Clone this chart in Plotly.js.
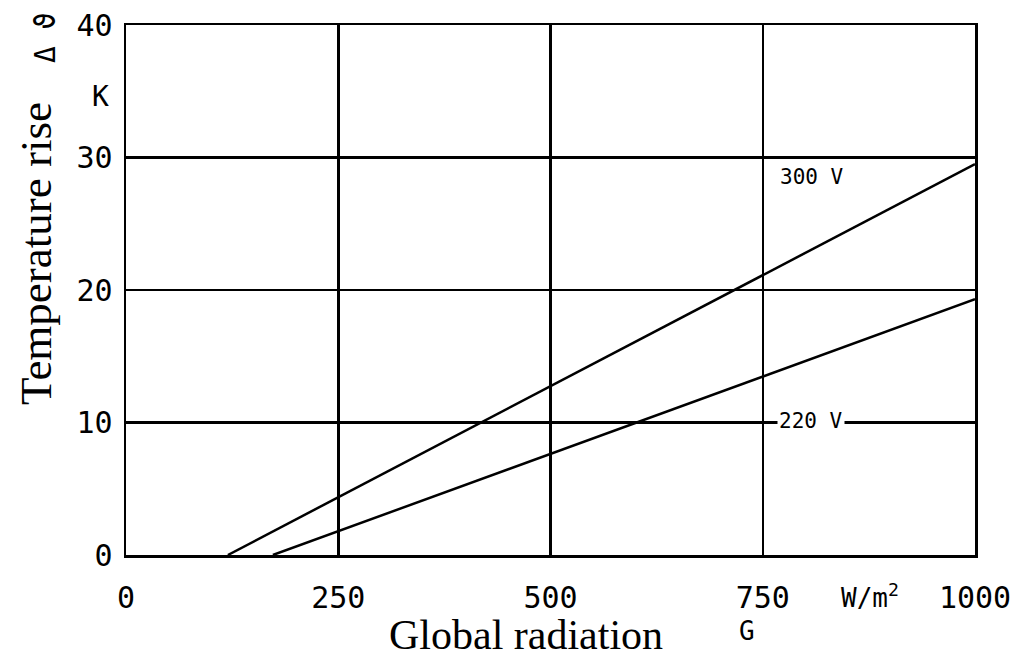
<!DOCTYPE html>
<html>
<head>
<meta charset="utf-8">
<script src="https://cdn.plot.ly/plotly-3.0.1.min.js"></script>
<style>html,body{margin:0;padding:0;background:#fff;}#chart{width:1023px;height:657px;}</style>
</head>
<body>
<div id="chart"></div>
<script>
// Data
const radiation300 = [120, 1000];
const rise300 = [0, 29.5];
const radiation220 = [173, 1000];
const rise220 = [0, 19.3];
const xTicks = [0, 250, 500, 750, 1000];
const xTickText = ['0', '250', '500', '750', '1000'];
const yTicks = [0, 10, 20, 30, 40];
const yTickText = ['0', '10', '20', '30', '40'];
const seriesLabels = ['300 V', '220 V'];
const labelPos = [[808, 28.5], [807, 10.1]];

const mono = 'DejaVu Sans Mono';
const serif = 'Liberation Serif';

const traces = [
  {x: radiation300, y: rise300, mode: 'lines', line: {color: '#000', width: 2.5}, hoverinfo: 'skip'},
  {x: radiation220, y: rise220, mode: 'lines', line: {color: '#000', width: 2.5}, hoverinfo: 'skip'}
];

const ann = [];
seriesLabels.forEach((t, i) => {
  ann.push({x: labelPos[i][0], y: labelPos[i][1], xref: 'x', yref: 'y', text: t, showarrow: false,
    font: {family: mono, size: 21, color: '#000'}, bgcolor: i === 1 ? '#fff' : 'rgba(0,0,0,0)', borderpad: 1});
});
ann.push({x: -0.1060, y: 0.568, xref: 'paper', yref: 'paper', text: 'Temperature rise', textangle: -90,
  showarrow: false, xanchor: 'center', yanchor: 'middle', font: {family: serif, size: 45, color: '#000'}});
ann.push({x: -0.0955, y: 0.977, xref: 'paper', yref: 'paper', text: 'Δ ϑ', textangle: -90,
  showarrow: false, xanchor: 'center', yanchor: 'middle', font: {family: mono, size: 28, color: '#000'}});
ann.push({x: -0.0306, y: 0.866, xref: 'paper', yref: 'paper', text: 'K',
  showarrow: false, xanchor: 'center', yanchor: 'middle', font: {family: mono, size: 28, color: '#000'}});
ann.push({x: 0.471, y: -0.150, xref: 'paper', yref: 'paper', text: 'Global radiation',
  showarrow: false, xanchor: 'center', yanchor: 'middle', font: {family: serif, size: 42, color: '#000'}});
ann.push({x: 0.731, y: -0.143, xref: 'paper', yref: 'paper', text: 'G',
  showarrow: false, xanchor: 'center', yanchor: 'middle', font: {family: mono, size: 26, color: '#000'}});
ann.push({x: 0.876, y: -0.077, xref: 'paper', yref: 'paper', text: 'W/m<sup>2</sup>',
  showarrow: false, xanchor: 'center', yanchor: 'middle', font: {family: mono, size: 26, color: '#000'}});

const layout = {
  width: 1023, height: 657,
  margin: {l: 126, r: 48, t: 25, b: 102, pad: 0},
  paper_bgcolor: '#fff', plot_bgcolor: '#fff',
  showlegend: false,
  xaxis: {range: [0, 1000], tickvals: xTicks, ticktext: xTickText, showgrid: true, gridcolor: '#000', gridwidth: 2.5,
    zeroline: false, showline: true, mirror: true, linecolor: '#000', linewidth: 2.5, ticks: '',
    ticklabelstandoff: 14, tickfont: {family: mono, size: 30, color: '#000'}, fixedrange: true},
  yaxis: {range: [0, 40], tickvals: yTicks, ticktext: yTickText, showgrid: true, gridcolor: '#000', gridwidth: 2.5,
    zeroline: false, showline: true, mirror: true, linecolor: '#000', linewidth: 2.5, ticks: '',
    ticklabelstandoff: 5, tickfont: {family: mono, size: 30, color: '#000'}, fixedrange: true},
  annotations: ann
};

Plotly.newPlot('chart', traces, layout, {staticPlot: true});
</script>
</body>
</html>
